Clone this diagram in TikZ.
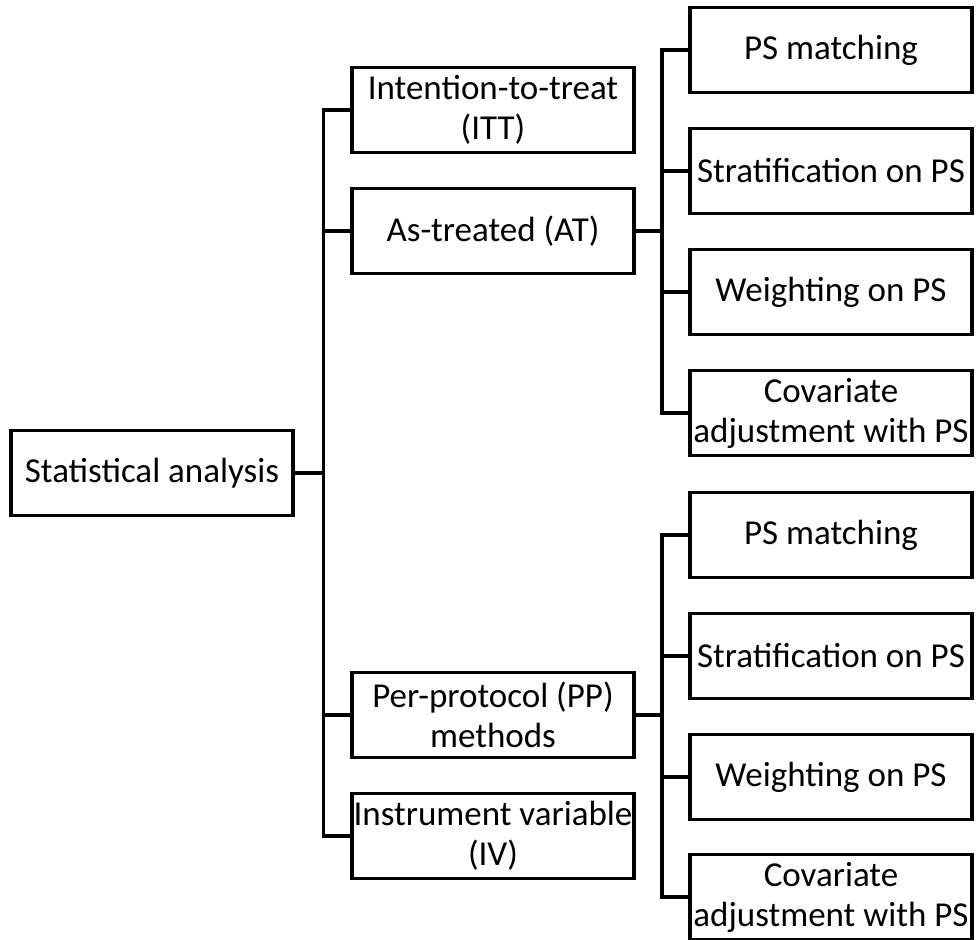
\documentclass[tikz,border=0pt]{standalone}
\usepackage{fontspec}
\setmainfont{Carlito}
\begin{document}
\begin{tikzpicture}[x=1pt,y=-1pt,
  box/.style={draw=black,line width=3.2pt,fill=white,minimum width=282pt,
    minimum height=85pt,inner sep=0pt,align=center,
    font=\fontsize{35}{40}\selectfont},
  link/.style={draw=black,line width=3.2pt,line join=miter}]
\useasboundingbox[fill=white] (0,0) rectangle (976,939);

% root
\node[box] (stat) at (152,473) {Statistical analysis};

% analysis approaches
\node[box] (itt) at (493,110) {Intention-to-treat\\(ITT)};
\node[box] (at)  at (493,231) {As-treated (AT)};
\node[box] (pp)  at (493,715) {Per-protocol (PP)\\methods};
\node[box] (iv)  at (493,836) {Instrument variable\\(IV)};

% propensity score methods under AT
\node[box] (a1) at (831,50)  {PS matching};
\node[box] (a2) at (831,171) {Stratification on PS};
\node[box] (a3) at (831,292) {Weighting on PS};
\node[box] (a4) at (831,413) {Covariate\\adjustment with PS};

% propensity score methods under PP
\node[box] (p1) at (831,535) {PS matching};
\node[box] (p2) at (831,656) {Stratification on PS};
\node[box] (p3) at (831,777) {Weighting on PS};
\node[box] (p4) at (831,897) {Covariate\\adjustment with PS};

% main trunk
\coordinate (trunk) at (323.5,0);
\draw[link] (itt.west) -| (trunk |- iv.west) -- (iv.west);
\draw[link] (itt.west) -| (trunk |- itt.west);
\draw[link] (at.west) -- (at.west -| trunk);
\draw[link] (pp.west) -- (pp.west -| trunk);
\draw[link] (stat.east) -- (stat.east -| trunk);

% AT branch
\coordinate (atx) at (662,0);
\draw[link] (a1.west) -- (a1.west -| atx) -- (a4.west -| atx) -- (a4.west);
\draw[link] (a2.west) -- (a2.west -| atx);
\draw[link] (a3.west) -- (a3.west -| atx);
\draw[link] (at.east) -- (at.east -| atx);

% PP branch
\draw[link] (p1.west) -- (p1.west -| atx) -- (p4.west -| atx) -- (p4.west);
\draw[link] (p2.west) -- (p2.west -| atx);
\draw[link] (p3.west) -- (p3.west -| atx);
\draw[link] (pp.east) -- (pp.east -| atx);
\end{tikzpicture}
\end{document}
